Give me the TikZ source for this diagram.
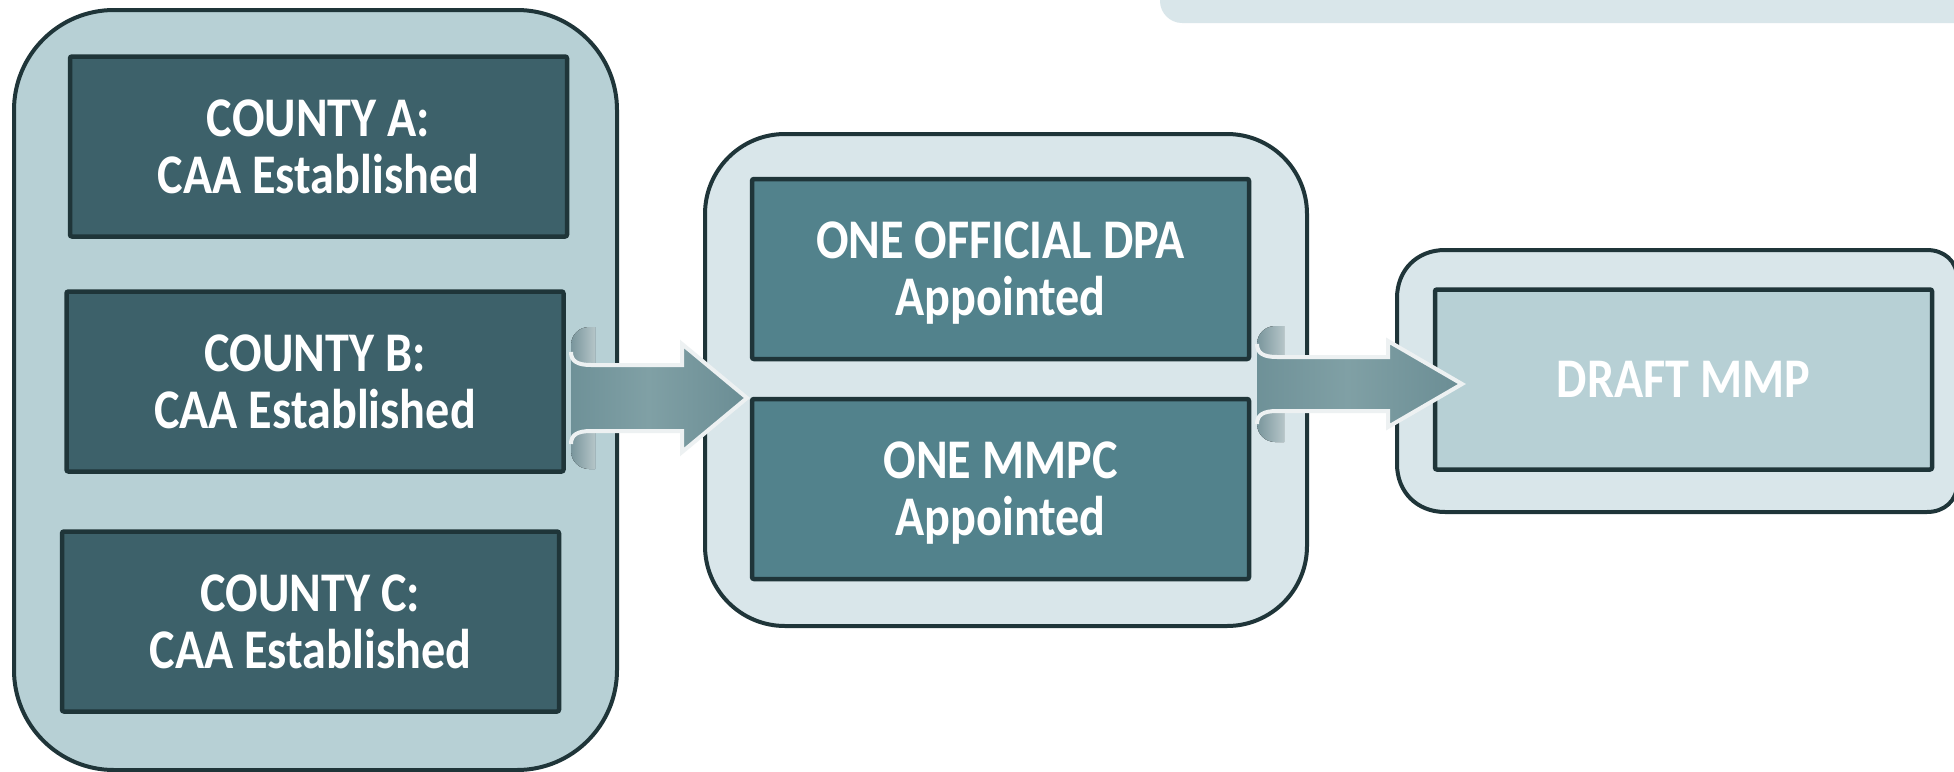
\documentclass[tikz,border=0pt]{standalone}
\usepackage{fontspec}
\newfontfamily\lblfont{Carlito}[FakeStretch=0.86]
\definecolor{edge}{HTML}{1F3539}
\definecolor{lightA}{HTML}{B7D0D5}
\definecolor{lightB}{HTML}{D9E6EA}
\definecolor{darkbox}{HTML}{3D616A}
\definecolor{midbox}{HTML}{52828C}
\definecolor{arrowline}{HTML}{EDF1F2}
\definecolor{arL}{HTML}{5A8089}
\definecolor{arM}{HTML}{80A0A5}
\definecolor{arR}{HTML}{577C85}
\definecolor{flL}{HTML}{5B7E86}
\definecolor{flR}{HTML}{D3DCDE}
\pgfdeclarehorizontalshading{bodyshade}{100bp}{color(0bp)=(arL); color(47bp)=(arM); color(100bp)=(arR)}
\pgfdeclarehorizontalshading{flapshade}{100bp}{color(0bp)=(flL); color(100bp)=(flR)}
\tikzset{
  container/.style={draw=edge, line width=4pt},
  cbox/.style={draw=edge, line width=4.5pt, rounded corners=2pt, minimum width=497pt, minimum height=180pt,
    text=white, align=center, text depth=0pt, inner sep=0pt,
    font=\lblfont\bfseries\fontsize{56}{57}\selectfont},
}
% #1 left x, #2 centre y, #3 body half height, #4 head half height, #5 head base x, #6 tip x, #7 flap extension, #8 flap width
\newcommand{\blockarr}[8]{%
  \fill[shading=flapshade] (#1,{#2-#3+4}) -- (#1,{#2-#3-#7+18}) .. controls (#1,{#2-#3-#7+8}) and ({#1+8},{#2-#3-#7}) .. ({#1+18},{#2-#3-#7}) -- ({#1+#8},{#2-#3-#7}) -- ({#1+#8},{#2-#3+4}) -- cycle;
  \fill[shading=flapshade] (#1,{#2+#3-4}) -- (#1,{#2+#3+#7-18}) .. controls (#1,{#2+#3+#7-8}) and ({#1+8},{#2+#3+#7}) .. ({#1+18},{#2+#3+#7}) -- ({#1+#8},{#2+#3+#7}) -- ({#1+#8},{#2+#3-4}) -- cycle;
  \fill[shading=bodyshade] (#1,{#2-#3-13}) .. controls (#1,{#2-#3-4}) and ({#1+6},{#2-#3}) .. ({#1+20},{#2-#3}) -- (#5,{#2-#3}) -- (#5,{#2-#4}) -- (#6,#2) -- (#5,{#2+#4}) -- (#5,{#2+#3}) -- ({#1+20},{#2+#3}) .. controls ({#1+6},{#2+#3}) and (#1,{#2+#3+4}) .. (#1,{#2+#3+13}) -- cycle;
  \draw[arrowline, line width=4pt, line join=miter] (#1,{#2-#3-13}) .. controls (#1,{#2-#3-4}) and ({#1+6},{#2-#3}) .. ({#1+20},{#2-#3}) -- (#5,{#2-#3}) -- (#5,{#2-#4}) -- (#6,#2) -- (#5,{#2+#4}) -- (#5,{#2+#3}) -- ({#1+20},{#2+#3}) .. controls ({#1+6},{#2+#3}) and (#1,{#2+#3+4}) .. (#1,{#2+#3+13});
}
\begin{document}
\begin{tikzpicture}[x=1pt,y=-1pt]
\useasboundingbox (0,0) rectangle (1954,771);
\fill[white] (0,0) rectangle (1954,771);
% top-right partial shape
\fill[lightB] (1160,-10) -- (1160,1) .. controls (1160,13) and (1170,23) .. (1182,23) -- (1965,23) -- (1965,-10) -- cycle;
% containers
\node[container, fill=lightA, rounded corners=100pt, minimum width=603pt, minimum height=760pt, inner sep=0pt] (leftgroup) at (315.5,390) {};
\node[container, fill=lightB, rounded corners=80pt, minimum width=602pt, minimum height=492pt, inner sep=0pt] (midgroup) at (1006,380) {};
\draw[container, fill=lightB] (1445,250) -- (1927,250) .. controls (1944,250) and (1957,261) .. (1957,278) -- (1957,484) .. controls (1957,501) and (1944,512) .. (1927,512) -- (1445,512) .. controls (1417,512) and (1397,492) .. (1397,464) -- (1397,298) .. controls (1397,270) and (1417,250) .. (1445,250) -- cycle;
% boxes
\node[cbox, fill=darkbox] (countyA) at (318.5,146.5) {COUNTY A:\\CAA Established};
\node[cbox, fill=darkbox] (countyB) at (315,381.5) {COUNTY B:\\CAA Established};
\node[cbox, fill=darkbox] (countyC) at (310.5,621.5) {COUNTY C:\\CAA Established};
\node[cbox, fill=midbox] (dpa) at (1000.5,269) {ONE OFFICIAL DPA\\Appointed};
\node[cbox, fill=midbox] (mmpc) at (1000.5,489) {ONE MMPC\\Appointed};
\node[cbox, fill=lightA] (draft) at (1683.5,379.5) {DRAFT MMP};
% block arrows
\blockarr{571}{398}{33}{54}{682}{747}{38}{24}
\blockarr{1257}{384}{27}{43}{1388}{1462}{31}{27}
\end{tikzpicture}
\end{document}
